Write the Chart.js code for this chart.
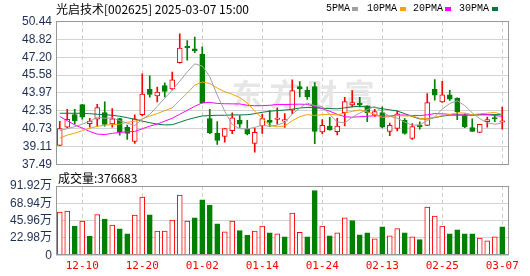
<!DOCTYPE html>
<html lang="zh-CN">
<head>
<meta charset="UTF-8">
<title>光启技术 K线</title>
<script src="https://cdn.jsdelivr.net/npm/chart.js@4.4.1/dist/chart.umd.min.js"></script>
<style>
  body { margin: 0; background: #fff; }
  #box { position: relative; width: 530px; height: 276px; overflow: hidden; }
  #box canvas { position: absolute; left: 0; }
  #kline { top: 0; }
  #vol { top: 166px; }
  .lbl { position: absolute; font: 12px/13px "Noto Sans CJK SC", sans-serif; color: #000; white-space: nowrap; }
  .ma { position: absolute; top: 2px; font: 10px/13px "Liberation Mono", monospace; color: #000; }
  .sq { position: absolute; top: 7px; width: 6px; height: 4px; }
</style>
</head>
<body>
<div id="box">
  <canvas id="kline" width="530" height="176"></canvas>
  <canvas id="vol" width="530" height="110"></canvas>
  <div class="lbl" style="left:56px;top:2px">光启技术[002625] 2025-03-07 15:00</div>
  <span class="ma" style="left:326px">5PMA</span><span class="sq" style="left:352px;background:#a0a0a0"></span>
  <span class="ma" style="left:367px">10PMA</span><span class="sq" style="left:400px;background:#f0a30a"></span>
  <span class="ma" style="left:413px">20PMA</span><span class="sq" style="left:445px;background:#ff00ff"></span>
  <span class="ma" style="left:459px">30PMA</span><span class="sq" style="left:492px;background:#007a3c"></span>
  <div class="lbl" style="left:58px;top:171px">成交量:376683</div>
</div>
<script>
const dates = ['12-05','12-06','12-09','12-10','12-11','12-12','12-13','12-16','12-17','12-18',
  '12-19','12-20','12-23','12-24','12-25','12-26','12-27','12-30','12-31','01-02',
  '01-03','01-06','01-07','01-08','01-09','01-10','01-13','01-14','01-15','01-16',
  '01-17','01-20','01-21','01-22','01-23','01-24','01-27','02-05','02-06','02-07',
  '02-10','02-11','02-12','02-13','02-14','02-17','02-18','02-19','02-20','02-21',
  '02-24','02-25','02-26','02-27','02-28','03-03','03-04','03-05','03-06','03-07'];
const xLabels = ['12-10','12-20','01-02','01-14','01-24','02-13','02-25','03-07'];

const open = [39.25,40.89,42.02,42.93,41.20,41.60,42.20,41.18,41.65,40.87,
  39.59,42.01,44.29,43.71,44.63,44.33,46.70,48.09,47.95,47.49,
  41.67,40.33,40.04,40.58,41.50,40.71,39.43,41.02,41.53,41.58,
  41.43,42.41,44.54,44.22,44.54,40.46,40.98,40.49,42.19,42.90,
  42.95,42.81,41.98,42.20,40.51,40.78,41.51,39.86,40.95,41.05,
  44.29,43.17,43.80,43.50,41.94,40.84,40.41,41.38,41.67,41.33];
const high = [41.41,42.50,42.50,42.94,41.69,42.94,43.17,42.57,41.69,41.07,
  42.01,45.70,45.52,44.51,44.89,45.85,49.32,48.71,49.01,48.13,
  42.50,41.38,40.75,42.17,41.94,41.50,40.80,42.05,42.38,42.63,
  42.12,45.16,45.00,44.53,44.91,41.58,41.78,41.69,43.57,44.18,
  43.57,42.81,42.50,42.72,41.25,42.35,41.65,41.22,41.36,43.91,
  45.18,45.02,44.22,43.53,42.10,41.63,41.14,41.80,42.01,42.70];
const low = [39.21,40.84,41.16,41.60,40.89,41.02,40.98,40.89,40.17,39.77,
  39.41,41.89,43.59,43.17,43.62,44.24,46.67,46.94,47.60,43.05,
  40.31,39.32,39.53,40.31,40.86,40.19,38.63,40.33,40.93,41.16,
  40.86,42.10,43.62,43.39,39.40,40.31,40.62,40.19,40.99,42.72,
  42.72,41.38,41.85,40.82,40.13,40.55,40.25,39.79,40.71,41.02,
  43.32,43.12,43.30,41.56,40.84,40.51,40.40,40.89,41.38,40.71];
const close = [40.75,41.60,41.47,41.78,41.43,42.66,41.14,41.63,40.49,40.33,
  41.63,43.88,43.84,44.06,44.11,45.16,48.02,48.04,47.76,43.08,
  40.37,39.68,40.75,41.74,41.16,40.28,40.41,41.67,41.31,41.67,
  41.50,44.18,44.33,43.64,40.51,41.05,40.64,40.98,43.19,43.10,
  42.91,42.19,42.30,40.89,41.05,42.10,40.33,40.93,40.91,43.10,
  43.77,43.80,43.41,42.28,40.91,40.51,41.14,41.56,41.62,41.46];

// volume in 万 shares, volUp = red (hollow) bar
const volume = [57.3,58.6,38.6,45.3,25.3,54.1,48.0,40.0,35.0,28.4,
  53.3,77.3,53.7,32.0,32.0,46.6,79.9,45.3,49.7,73.7,
  66.6,41.7,31.0,45.3,32.8,26.6,32.0,38.6,29.7,28.4,
  24.4,55.9,30.6,24.4,85.7,38.6,25.7,29.7,49.7,46.1,
  27.0,29.7,21.7,37.7,25.7,35.4,29.7,24.4,20.8,63.9,
  52.0,38.6,28.4,33.7,28.4,28.4,23.0,19.1,24.4,37.67];
const volUp = [1,1,0,1,0,1,0,1,0,0, 1,1,0,1,1,1,1,1,0,0, 0,0,1,1,0,0,1,1,0,1,
  0,1,1,0,0,1,0,1,1,0, 0,0,1,0,1,1,0,1,0,1, 1,1,0,0,0,0,1,1,1,0];

const ma5 = [40.58,40.75,40.93,41.16,41.41,41.79,41.69,41.73,41.47,41.25,
  41.04,41.60,42.04,42.76,43.51,44.22,45.04,45.87,46.60,46.40,
  45.44,43.78,42.33,41.12,40.74,40.72,40.87,41.05,40.97,41.07,
  41.32,42.07,42.60,43.06,42.83,42.74,42.03,41.36,41.27,41.79,
  42.16,42.47,42.74,42.27,41.86,41.70,41.34,41.06,41.09,41.49,
  41.83,42.52,43.02,43.27,42.83,42.18,41.65,41.28,41.15,41.26];
const ma10 = [39.90,40.17,40.35,40.56,40.80,40.95,41.07,41.11,41.16,41.33,
  41.42,41.64,41.88,42.11,42.38,42.63,43.32,43.96,44.68,44.96,
  44.83,44.41,44.09,43.86,43.56,43.07,42.32,41.69,41.05,40.91,
  41.01,41.47,41.83,42.02,41.95,42.02,42.05,41.98,42.17,42.31,
  42.45,42.26,42.05,41.77,41.83,41.93,41.90,41.90,41.68,41.68,
  41.77,41.93,42.03,42.18,42.16,42.01,42.09,42.15,42.21,42.04];
const ma20 = [41.85,41.47,41.09,40.80,40.50,40.26,40.22,40.33,40.41,40.46,
  40.50,40.74,40.98,41.17,41.43,41.69,42.05,42.41,42.77,43.08,
  43.12,43.03,43.00,42.99,42.98,42.86,42.82,42.83,42.86,42.94,
  42.93,42.95,42.96,42.94,42.76,42.55,42.32,42.05,41.83,41.78,
  41.83,41.87,41.92,41.90,41.89,41.98,41.98,41.94,41.93,42.00,
  42.11,42.09,42.04,41.97,42.00,41.97,41.99,42.02,41.94,41.86];
const ma30 = [42.14,42.14,42.14,42.14,42.10,42.05,42.01,41.96,41.87,41.74,
  41.60,41.43,41.29,41.16,41.09,41.11,41.33,41.56,41.74,41.90,
  41.93,41.96,41.96,41.99,41.99,42.01,42.10,42.23,42.32,42.38,
  42.43,42.51,42.61,42.67,42.63,42.59,42.57,42.54,42.63,42.73,
  42.77,42.71,42.66,42.55,42.45,42.35,42.10,41.85,41.63,41.63,
  41.75,41.88,41.97,41.99,41.98,41.99,42.02,42.01,42.02,42.02];

const priceTicks = [37.49,39.11,40.73,42.35,43.97,45.58,47.20,48.82,50.44];
const volTicks = [0,22.98,45.96,68.94,91.92];

const RED = '#ff0000', GREEN = '#008000';
const idx = dates.map((d, i) => i);
const tickIdx = xLabels.map(l => dates.indexOf(l));
const up = i => close[i] >= open[i];

const frame = {
  id: 'frame',
  afterDraw(chart) {
    const {ctx, chartArea: a} = chart;
    ctx.save();
    ctx.strokeStyle = '#999';
    ctx.lineWidth = 1;
    ctx.strokeRect(Math.round(a.left) + 0.5, Math.round(a.top) + 0.5,
      Math.round(a.right - a.left) - 1, Math.round(a.bottom - a.top) - 1);
    ctx.restore();
  }
};

const watermark = {
  id: 'watermark',
  beforeDatasetsDraw(chart) {
    const ctx = chart.ctx;
    ctx.save();
    ctx.fillStyle = '#e6e6e6';
    ctx.font = 'bold 30px "Noto Sans CJK SC"';
    ctx.textAlign = 'center';
    ctx.textBaseline = 'middle';
    '东方财富'.split('').forEach((c, k) => ctx.fillText(c, 247 + k * 37.5, 94));
    ctx.restore();
  }
};

function xScale(showLabels) {
  return {
    type: 'linear', min: -0.5, max: 59.94, offset: false,
    afterBuildTicks: s => { s.ticks = tickIdx.map(v => ({value: v})); },
    afterFit: s => { s.height = showLabels ? 20 : 0; },
    grid: { color: '#cfcfcf', drawTicks: false, offset: false },
    border: { display: false, dash: [4, 3] },
    ticks: {
      display: showLabels, padding: 4, autoSkip: false, maxRotation: 0,
      color: RED, font: { family: '"DejaVu Sans Mono", monospace', size: 11 },
      callback: v => dates[v]
    }
  };
}

new Chart(document.getElementById('kline'), {
  type: 'bar',
  data: {
    datasets: [
      { type: 'line', data: idx.map(i => ({x: i, y: ma5[i]})), borderColor: '#a0a0a0', borderWidth: 1, pointRadius: 0, order: 0 },
      { type: 'line', data: idx.map(i => ({x: i, y: ma10[i]})), borderColor: '#f0a30a', borderWidth: 1, pointRadius: 0, order: 0 },
      { type: 'line', data: idx.map(i => ({x: i, y: ma20[i]})), borderColor: '#ff00ff', borderWidth: 1, pointRadius: 0, order: 0 },
      { type: 'line', data: idx.map(i => ({x: i, y: ma30[i]})), borderColor: '#007a3c', borderWidth: 1, pointRadius: 0, order: 0 },
      {
        data: idx.map(i => ({x: i, y: [open[i], close[i]]})),
        backgroundColor: idx.map(i => up(i) ? '#fff' : GREEN),
        borderColor: idx.map(i => up(i) ? RED : GREEN),
        borderWidth: 1, borderSkipped: false, barThickness: 5, minBarLength: 1.5,
        grouped: false, order: 1
      },
      {
        data: idx.map(i => ({x: i, y: [low[i], high[i]]})),
        backgroundColor: idx.map(i => up(i) ? RED : GREEN),
        barThickness: 1, grouped: false, order: 2
      }
    ]
  },
  options: {
    responsive: false, animation: false, events: [],
    layout: { padding: { left: 0, right: 20.7, top: 21.3, bottom: 10.7 } },
    plugins: { legend: { display: false }, tooltip: { enabled: false } },
    scales: {
      x: xScale(false),
      y: {
        min: 37.49, max: 50.44,
        afterBuildTicks: s => { s.ticks = priceTicks.map(v => ({value: v})); },
        afterFit: s => { s.width = 56; },
        grid: { color: '#d3d3d3', drawTicks: false },
        border: { display: false },
        ticks: { padding: 4, autoSkip: false, color: '#1d2f55', font: { family: '"Liberation Sans", Arial', size: 12 }, callback: v => v.toFixed(2) }
      }
    }
  },
  plugins: [watermark, frame]
});

new Chart(document.getElementById('vol'), {
  type: 'bar',
  data: {
    datasets: [{
      data: idx.map(i => ({x: i, y: volume[i]})),
      backgroundColor: idx.map(i => volUp[i] ? '#fff' : GREEN),
      borderColor: idx.map(i => volUp[i] ? RED : GREEN),
      borderWidth: 1, borderSkipped: false, barThickness: 5
    }]
  },
  options: {
    responsive: false, animation: false, events: [],
    layout: { padding: { left: 0, right: 20.7, top: 20, bottom: 0.7 } },
    plugins: { legend: { display: false }, tooltip: { enabled: false } },
    scales: {
      x: xScale(true),
      y: {
        min: 0, max: 91.92,
        afterBuildTicks: s => { s.ticks = volTicks.map(v => ({value: v})); },
        afterFit: s => { s.width = 56; },
        grid: { color: '#d3d3d3', drawTicks: false },
        border: { display: false },
        ticks: {
          padding: 4, autoSkip: false, color: '#1d2f55',
          font: { family: '"Liberation Sans", "Noto Sans CJK SC", Arial', size: 12 },
          callback: v => v === 0 ? '0' : v.toFixed(2) + '万'
        }
      }
    }
  },
  plugins: [frame]
});
</script>
</body>
</html>
